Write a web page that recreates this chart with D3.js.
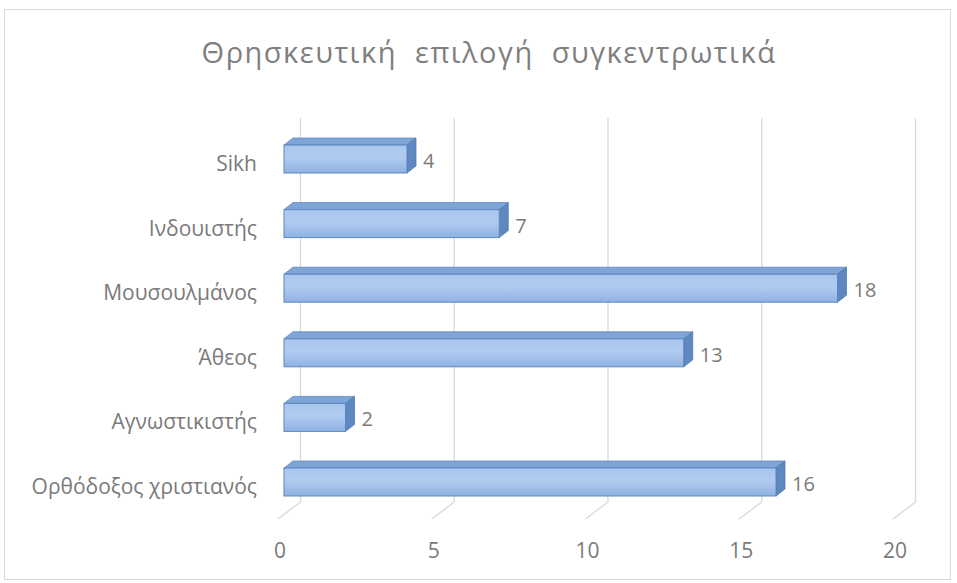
<!DOCTYPE html>
<html>
<head>
<meta charset="utf-8">
<script src="https://cdn.jsdelivr.net/npm/d3@7"></script>
<style>
  body { margin: 0; background: #fff; }
  svg { display: block; }
</style>
</head>
<body>
<div id="chart"></div>
<script>
// data, top bar first
const categories = ["Sikh", "Ινδουιστής", "Μουσουλμάνος", "Άθεος", "Αγνωστικιστής", "Ορθόδοξος χριστιανός"];
const values = [4, 7, 18, 13, 2, 16];
const ticks = [0, 5, 10, 15, 20];
const title = "Θρησκευτική  επιλογή  συγκεντρωτικά";

const width = 957;
const height = 583;
const font = "'Open Sans', 'Noto Sans', sans-serif";
const textColor = "#7a7a7a";

const svg = d3.select("#chart")
  .append("svg")
    .attr("width", width)
    .attr("height", height)

const defs = svg.append("defs")
const grad = defs.append("linearGradient")
    .attr("id", "barFront")
    .attr("x1", 0).attr("y1", 0).attr("x2", 0).attr("y2", 1)
grad.append("stop").attr("offset", "0%").attr("stop-color", "#a9c6ee")
grad.append("stop").attr("offset", "45%").attr("stop-color", "#b1cbef")
grad.append("stop").attr("offset", "100%").attr("stop-color", "#8fb2e2")

// chart frame
svg.append("rect")
  .attr("x", 4.5).attr("y", 9.5)
  .attr("width", 946).attr("height", 570)
  .attr("fill", "#fff")
  .attr("stroke", "#d9d9d9")

svg.append("text")
  .attr("x", 489)
  .attr("y", 63)
  .attr("text-anchor", "middle")
  .style("font-family", font)
  .style("font-size", "29px")
  .style("letter-spacing", "1.5px")
  .style("fill", "#7f7f7f")
  .style("white-space", "pre")
  .text(title)

/// scales: x is on the front edge of the floor, depth goes up and right
const x = d3.scaleLinear().domain([0, 20]).range([278, 893]);
const depth = { dx: 22.5, dy: -17 };
const wallTop = 118, wallBottom = 502;

const y = d3.scaleBand()
  .domain(categories)
  .range([126.7, 514.3])
  .paddingInner(0.567)
  .paddingOuter(0.2835)

/// back wall gridlines and the floor lines
const grid = svg.append("g")
  .attr("stroke", "#d9d9d9")
  .attr("stroke-width", 1.3)
  .attr("fill", "none")

grid.selectAll("path")
  .data(ticks)
  .join("path")
    .attr("d", d => {
      const bx = x(d) + depth.dx;
      return `M${bx},${wallTop} L${bx},${wallBottom} L${x(d)},${wallBottom - depth.dy}`;
    })

/// tick labels
svg.selectAll(".tick-label")
  .data(ticks)
  .join("text")
    .attr("class", "tick-label")
    .attr("x", d => x(d) + 2)
    .attr("y", 558)
    .attr("text-anchor", "middle")
    .style("font-family", font)
    .style("font-size", "21px")
    .style("fill", textColor)
    .text(d => d)

/// category labels
svg.selectAll(".cat-label")
  .data(categories)
  .join("text")
    .attr("class", "cat-label")
    .attr("x", 257)
    .attr("y", d => y(d) + y.bandwidth() / 2 + 12)
    .attr("text-anchor", "end")
    .style("font-family", font)
    .style("font-size", "21px")
    .style("fill", textColor)
    .text(d => d)

/// bars, drawn as a front face plus top and side faces
const bx0 = 6;           // bar front plane sits a bit behind the floor edge
const bd = { dx: 9, dy: -7 };
const bars = svg.selectAll(".bar")
  .data(categories.map((c, i) => ({ cat: c, value: values[i] })))
  .join("g")
    .attr("class", "bar")

bars.append("path")  // top face
  .attr("d", d => {
    const x0 = x(0) + bx0, x1 = x(d.value) + bx0, t = y(d.cat);
    return `M${x0},${t} L${x0 + bd.dx},${t + bd.dy} L${x1 + bd.dx},${t + bd.dy} L${x1},${t}Z`;
  })
  .attr("fill", "#7fa4d6")
  .attr("stroke", "#5f88c2")
  .attr("stroke-width", 0.8)

bars.append("path")  // side face
  .attr("d", d => {
    const x1 = x(d.value) + bx0, t = y(d.cat), b = t + y.bandwidth();
    return `M${x1},${t} L${x1 + bd.dx},${t + bd.dy} L${x1 + bd.dx},${b + bd.dy} L${x1},${b}Z`;
  })
  .attr("fill", "#5f88c0")
  .attr("stroke", "#507ab4")
  .attr("stroke-width", 0.8)

bars.append("rect")  // front face
  .attr("x", x(0) + bx0)
  .attr("y", d => y(d.cat))
  .attr("width", d => x(d.value) - x(0))
  .attr("height", y.bandwidth())
  .attr("fill", "url(#barFront)")
  .attr("stroke", "#5b86c0")
  .attr("stroke-width", 1)

bars.append("text")  // value label
  .attr("x", d => x(d.value) + bx0 + bd.dx + 7)
  .attr("y", d => y(d.cat) + y.bandwidth() / 2 + 9)
  .style("font-family", font)
  .style("font-size", "20px")
  .style("fill", textColor)
  .text(d => d.value)
</script>
</body>
</html>
